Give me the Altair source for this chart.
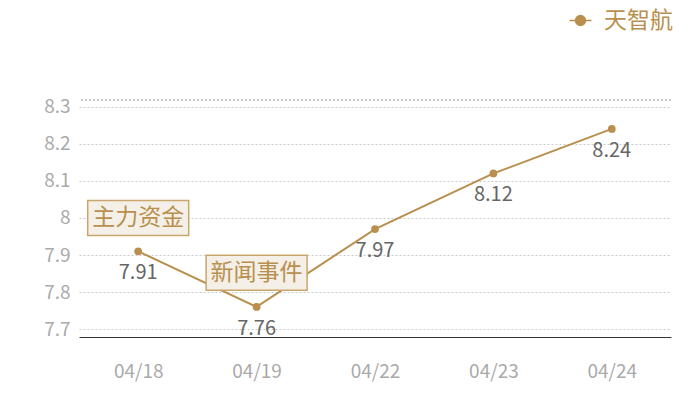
import altair as alt
import pandas as pd

dates = ["04/18", "04/19", "04/22", "04/23", "04/24"]
values = [7.91, 7.76, 7.97, 8.12, 8.24]
series_name = "天智航"
y_ticks = [7.7, 7.8, 7.9, 8.0, 8.1, 8.2, 8.3]
y_domain = [7.679, 8.318]
notes = ["主力资金", "新闻事件"]
note_dates = ["04/18", "04/19"]
note_values = [8.0, 7.852]

GOLD = "#b88f4e"
FONT = "Noto Sans CJK SC"

df = pd.DataFrame({"date": dates, "value": values, "series": [series_name] * len(dates)})
notes_df = pd.DataFrame({"date": note_dates, "value": note_values, "note": notes})

x = alt.X("date:N", sort=dates,
          scale=alt.Scale(paddingInner=0, paddingOuter=0),
          axis=alt.Axis(title=None, labelAngle=0, ticks=False, domain=True,
                        domainColor="#333", domainWidth=1, grid=False,
                        labelColor="#aaaaaa", labelFontSize=19, labelFont=FONT,
                        labelPadding=25))
y = alt.Y("value:Q",
          scale=alt.Scale(domain=y_domain, nice=False, zero=False),
          axis=alt.Axis(title=None, values=y_ticks, tickCount=20, format=".1~f", ticks=False,
                        domain=False, grid=True, gridColor="#c8c8c8",
                        gridDash=[2, 2], labelColor="#aaaaaa", labelFontSize=19,
                        labelFont=FONT, labelPadding=9, labelOverlap=False,
                        labelBound=False, labelFlush=False))

color = alt.Color("series:N",
                  scale=alt.Scale(domain=[series_name], range=[GOLD]),
                  legend=alt.Legend(title=None, orient="none", legendX=490, legendY=-91,
                                    symbolType="M-2,0 L-0.9,0 M0.9,0 L2,0 M-0.9,0 A0.9,0.9 0 1 1 0.9,0 A0.9,0.9 0 1 1 -0.9,0 Z",
                                    symbolSize=121, symbolStrokeWidth=1.5,
                                    symbolFillColor=GOLD, symbolStrokeColor=GOLD,
                                    labelFont=FONT, labelFontSize=23, labelColor=GOLD,
                                    labelOffset=12, labelLimit=200))

line = alt.Chart(df).mark_line(strokeWidth=2).encode(x=x, y=y, color=color)
pts = alt.Chart(df).mark_point(filled=True, size=60, opacity=1).encode(x=x, y=y, color=color)
labels = alt.Chart(df).mark_text(dy=22, fontSize=20, color="#666666", font=FONT).encode(
    x=x, y=y, text=alt.Text("value:Q", format=".2f"))

top_rule = alt.Chart(df).mark_rule(
    color="#c8c8c8", strokeDash=[2, 2], strokeWidth=1
).encode(y=alt.datum(y_domain[1]))

box_shape = "M-1,-0.347 L1,-0.347 L1,0.347 L-1,0.347 Z"
boxes = alt.Chart(notes_df).mark_point(shape=box_shape, size=10201, filled=True,
                                       fill="#f4efe7", stroke="#c9a66b", strokeWidth=1.5,
                                       opacity=1).encode(x=x, y=y)
note_text = alt.Chart(notes_df).mark_text(fontSize=23, color=GOLD, font=FONT).encode(
    x=x, y=y, text="note:N")

chart = alt.layer(line, top_rule, pts, labels, boxes, note_text).properties(
    width=592, height=237,
    autosize=alt.AutoSizeParams(type="none"),
    padding={"left": 71, "top": 92, "right": 21, "bottom": 55},
).configure(font=FONT).configure_view(stroke=None)

chart.save("out.html", embed_options={"renderer": "svg", "actions": False})
